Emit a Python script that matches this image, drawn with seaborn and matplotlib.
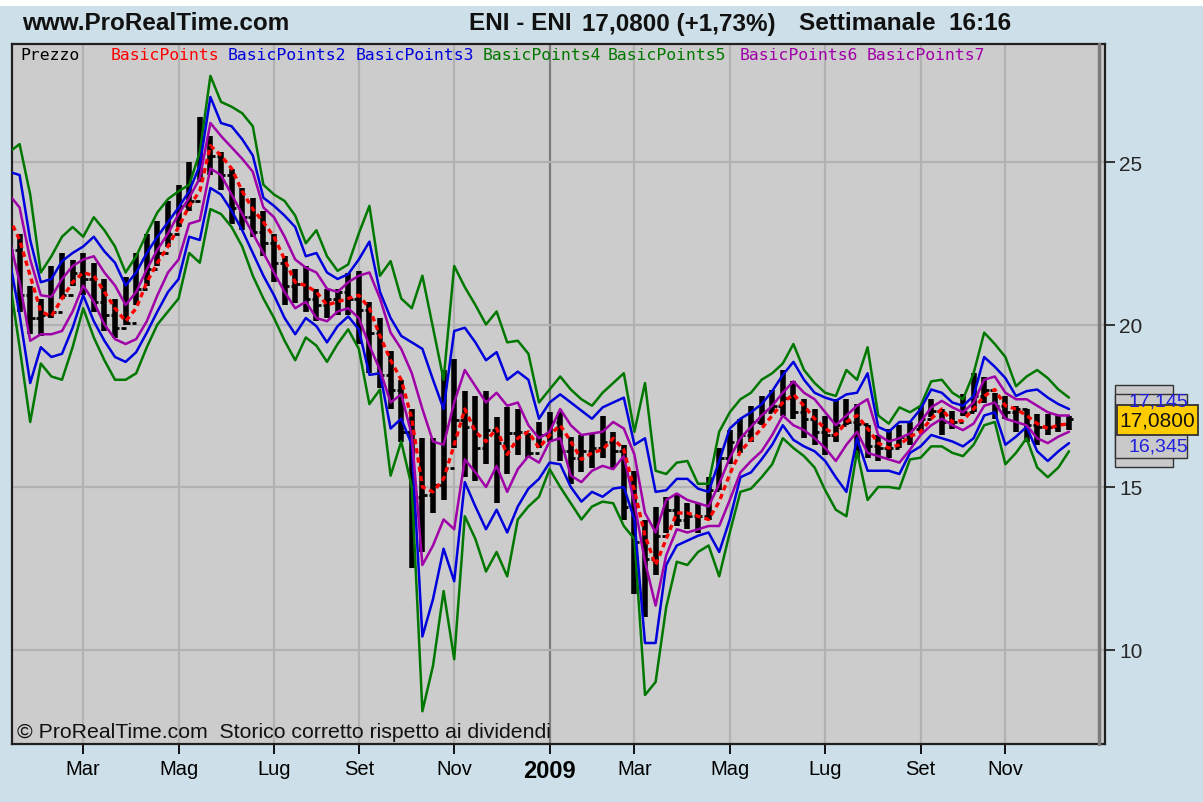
import numpy as np
import pandas as pd
import matplotlib
matplotlib.use("Agg")
import matplotlib.pyplot as plt
import seaborn as sns
from matplotlib.patches import Rectangle

# ---------------- data (weekly ENI) ----------------
start_week = "2008-01-14"
n_weeks = 101

bar_open = [23.2, 22.3, 20.9, 20.2, 20.3, 20.4, 20.9, 21.6, 21.4, 20.7,
            20.3, 19.9, 20.05, 21.1, 21.7, 22.2, 22.8, 23.65, 23.8, 25.7,
            25.2, 24.6, 23.6, 23.3, 22.85, 22.5, 21.9, 21.2, 21.25, 20.8,
            20.6, 20.8, 21.0, 20.8, 20.45, 19.75, 18.45, 18.0, 16.7, 14.7,
            14.75, 15.05, 15.6, 17.05, 16.85, 16.2, 16.75, 16.35, 16.65, 16.7,
            16.05, 16.6, 17.0, 16.1, 15.9, 16.1, 16.2, 16.4, 16.1, 14.4,
            13.3, 12.8, 13.5, 14.3, 14.0, 14.1, 14.1, 14.9, 15.9, 16.4,
            16.6, 17.0, 17.3, 17.5, 17.75, 17.3, 17.1, 16.7, 16.6, 16.9,
            17.0, 16.95, 16.25, 16.2, 16.2, 16.55, 16.8, 17.1, 17.35, 17.0,
            17.0, 17.3, 17.8, 18.0, 17.5, 17.3, 17.4, 16.9, 16.85, 16.85,
            16.95]
bar_high = [23.9, 22.8, 21.2, 20.8, 21.8, 22.2, 22.0, 22.2, 21.9, 21.4,
            20.8, 21.45, 22.2, 22.8, 23.2, 23.8, 24.3, 25.0, 26.4, 25.8,
            25.3, 24.8, 24.2, 23.9, 23.5, 22.8, 22.1, 21.7, 21.8, 21.1,
            21.1, 21.1, 21.6, 21.65, 20.7, 20.2, 19.2, 18.3, 17.4, 16.5,
            16.5, 18.6, 18.95, 17.95, 17.8, 17.95, 17.15, 17.45, 17.4, 16.65,
            17.0, 17.3, 17.3, 16.55, 16.6, 16.65, 17.2, 16.7, 16.3, 15.5,
            14.0, 14.4, 14.7, 14.8, 14.5, 14.5, 15.3, 16.2, 16.75, 17.1,
            17.5, 17.8, 18.0, 18.6, 18.25, 17.7, 17.4, 17.2, 17.7, 17.7,
            17.55, 16.9, 16.6, 16.8, 16.9, 17.0, 17.5, 17.7, 17.4, 17.35,
            17.85, 18.5, 18.4, 17.9, 17.8, 17.5, 17.4, 17.25, 17.25, 17.2,
            17.2]
bar_low = [21.6, 20.4, 19.7, 19.65, 20.2, 20.8, 21.2, 20.9, 20.4, 19.8,
           19.6, 20.0, 20.6, 21.2, 21.8, 22.4, 23.0, 23.5, 24.4, 24.6,
           24.15, 23.1, 22.9, 22.7, 22.1, 21.3, 20.6, 20.65, 20.4, 20.1,
           20.2, 20.3, 20.3, 19.4, 18.5, 18.05, 17.4, 16.4, 12.5, 13.0,
           14.2, 14.6, 16.2, 15.3, 15.2, 15.7, 14.5, 15.4, 16.0, 15.9,
           16.2, 16.4, 15.8, 15.1, 15.45, 15.6, 15.9, 15.6, 14.0, 11.7,
           11.0, 12.3, 13.6, 13.8, 13.7, 13.6, 14.0, 14.9, 15.7, 16.05,
           16.4, 16.9, 17.3, 17.2, 17.1, 16.5, 16.3, 16.0, 16.4, 16.9,
           15.9, 15.9, 15.8, 15.9, 16.2, 16.3, 16.7, 17.15, 16.6, 16.8,
           17.2, 17.3, 17.6, 17.1, 17.1, 16.7, 16.4, 16.3, 16.6, 16.7,
           16.75]
bar_close = [22.3, 20.9, 20.2, 20.3, 20.4, 20.9, 21.6, 21.4, 20.7, 20.3,
             19.9, 20.05, 21.1, 21.7, 22.2, 22.8, 23.65, 23.8, 25.7, 25.2,
             24.6, 23.6, 23.3, 22.85, 22.5, 21.9, 21.2, 21.25, 20.8, 20.6,
             20.8, 21.0, 20.8, 20.45, 19.75, 18.45, 18.0, 16.7, 14.7, 14.75,
             15.05, 15.6, 17.05, 16.85, 16.2, 16.75, 16.35, 16.65, 16.7, 16.05,
             16.6, 17.0, 16.1, 15.9, 16.1, 16.2, 16.4, 16.1, 14.4, 13.3,
             12.8, 13.5, 14.3, 14.0, 14.1, 14.1, 14.9, 15.9, 16.4, 16.6,
             17.0, 17.3, 17.5, 17.75, 17.3, 17.1, 16.7, 16.6, 16.9, 17.0,
             16.95, 16.25, 16.2, 16.2, 16.55, 16.8, 17.1, 17.35, 17.0, 17.0,
             17.3, 17.8, 18.0, 17.5, 17.3, 17.4, 16.9, 16.85, 16.85, 16.95,
             17.08]

# BasicPoints (pivot, red dashed)
basic_points = [23.3, 22.6, 21.5, 20.4, 20.25, 20.8, 21.3, 21.6, 21.5, 21.0,
                20.5, 20.1, 20.5, 21.3, 21.9, 22.4, 23.0, 23.65, 24.1, 25.5,
                25.2, 24.8, 24.1, 23.55, 23.15, 22.7, 22.0, 21.3, 21.2, 21.0,
                20.6, 20.7, 20.8, 20.9, 20.5, 19.65, 18.9, 18.3, 17.1, 15.0,
                14.85, 15.25, 16.3, 17.4, 16.7, 16.4, 16.8, 16.0, 16.5, 16.7,
                16.2, 16.6, 16.9, 16.4, 15.85, 16.05, 16.15, 16.5, 16.15, 14.9,
                13.5, 12.6, 13.4, 14.2, 14.2, 14.1, 14.0, 14.55, 15.4, 16.1,
                16.45, 16.8, 17.2, 17.6, 17.85, 17.5, 17.1, 16.8, 16.6, 17.0,
                17.2, 16.8, 16.35, 16.2, 16.3, 16.55, 16.7, 17.1, 17.4, 17.0,
                17.05, 17.4, 17.8, 18.0, 17.5, 17.4, 17.2, 16.95, 16.8, 16.9,
                16.95]
# BasicPoints2 / 3 (blue upper / lower)
basic_points2 = [24.7, 24.6, 22.6, 21.3, 21.4, 21.95, 22.2, 22.4, 22.7, 22.25,
                 21.9, 21.2, 21.6, 22.2, 22.7, 23.15, 23.6, 24.1, 24.9, 27.0,
                 26.2, 26.1, 25.7, 25.2, 23.9, 23.65, 23.35, 23.0, 22.1, 22.2,
                 21.6, 21.4, 21.55, 22.0, 22.55, 21.0, 20.2, 19.65, 19.45, 19.25,
                 18.3, 17.4, 19.8, 19.9, 19.45, 18.9, 19.15, 18.3, 18.55, 18.3,
                 17.1, 17.6, 17.85, 17.6, 17.35, 17.1, 17.45, 17.6, 17.75, 16.3,
                 16.5, 14.85, 14.9, 15.25, 15.25, 14.95, 14.85, 15.8, 16.8, 17.1,
                 17.3, 17.55, 17.95, 18.45, 18.85, 18.3, 17.9, 17.75, 17.65, 17.85,
                 17.9, 18.5, 16.85, 16.7, 17.0, 17.0, 17.4, 18.0, 17.9, 17.6,
                 17.5, 17.8, 19.0, 18.7, 18.35, 17.8, 17.95, 18.0, 17.75, 17.55,
                 17.4]
basic_points3 = [22.1, 20.3, 18.2, 19.3, 19.0, 19.1, 19.9, 20.9, 20.1, 19.5,
                 19.0, 18.85, 19.15, 19.75, 20.4, 21.0, 21.4, 22.7, 22.6, 24.2,
                 24.0, 23.5, 22.9, 22.2, 21.5, 20.9, 20.2, 19.7, 20.2, 19.95,
                 19.45, 19.95, 20.25, 19.85, 18.45, 18.5, 16.8, 17.1, 16.3, 10.4,
                 11.55, 13.1, 12.1, 15.15, 14.4, 13.7, 14.3, 13.6, 14.4, 14.95,
                 15.25, 15.75, 15.7, 15.0, 14.55, 14.85, 14.7, 14.95, 15.0, 14.0,
                 10.2, 10.2, 12.6, 13.2, 13.35, 13.5, 13.6, 13.0, 14.0, 15.3,
                 15.45, 15.85, 16.3, 16.9, 16.45, 16.25, 16.1, 15.8, 15.3, 14.85,
                 16.5, 15.5, 15.5, 15.5, 15.4, 16.05, 16.25, 16.6, 16.5, 16.4,
                 16.25, 16.5, 17.2, 17.3, 16.3, 16.55, 16.85, 16.1, 15.8, 16.1,
                 16.35]
# BasicPoints4 / 5 (green upper / lower)
basic_points4 = [25.3, 25.55, 24.0, 21.6, 22.1, 22.7, 23.0, 22.7, 23.3, 22.9,
                 22.4, 21.6, 22.1, 22.8, 23.45, 23.86, 24.1, 24.3, 25.3, 27.65,
                 26.85, 26.7, 26.5, 26.1, 24.3, 24.0, 23.8, 23.35, 22.5, 22.9,
                 22.1, 21.65, 21.85, 22.8, 23.65, 21.5, 21.95, 20.8, 20.5, 21.5,
                 19.9, 18.3, 21.8, 21.15, 20.6, 20.0, 20.4, 19.45, 19.5, 19.1,
                 17.6, 18.0, 18.4, 18.0, 17.7, 17.5, 17.9, 18.2, 18.5, 16.7,
                 18.2, 15.5, 15.4, 15.75, 15.8, 15.1, 15.1, 16.7, 17.3, 17.7,
                 17.9, 18.3, 18.5, 18.8, 19.4, 18.6, 18.2, 17.9, 17.8, 18.6,
                 18.3, 19.3, 17.2, 16.95, 17.45, 17.3, 17.5, 18.25, 18.3, 17.9,
                 17.7, 18.5, 19.75, 19.4, 19.0, 18.1, 18.4, 18.6, 18.35, 18.0,
                 17.75]
basic_points5 = [21.5, 19.3, 17.0, 18.8, 18.4, 18.3, 19.3, 20.5, 19.6, 18.9,
                 18.3, 18.3, 18.5, 19.3, 20.0, 20.4, 20.8, 22.2, 21.9, 23.55,
                 23.4, 23.0, 22.4, 21.5, 20.8, 20.2, 19.5, 18.9, 19.6, 19.35,
                 18.85, 19.4, 19.85, 19.25, 17.55, 18.0, 15.35, 16.4, 15.0, 8.1,
                 9.5, 11.8, 9.7, 14.1, 13.4, 12.4, 13.0, 12.25, 14.0, 14.4,
                 14.7, 15.55, 15.0, 14.5, 14.0, 14.4, 14.55, 14.5, 13.8, 13.4,
                 8.6, 9.0, 11.3, 12.7, 12.6, 13.0, 13.2, 12.25, 13.6, 14.85,
                 14.95, 15.3, 15.7, 16.5, 16.2, 15.95, 15.6, 14.9, 14.3, 14.1,
                 16.1, 14.6, 15.0, 15.0, 14.95, 15.85, 15.9, 16.25, 16.25, 16.05,
                 15.95, 16.3, 16.9, 17.0, 15.7, 16.05, 16.5, 15.6, 15.3, 15.6,
                 16.1]
# BasicPoints6 / 7 (purple upper / lower)
basic_points6 = [24.0, 23.6, 22.0, 20.9, 20.85, 21.4, 21.8, 22.0, 22.1, 21.6,
                 21.2, 20.6, 21.0, 21.7, 22.3, 22.8, 23.4, 23.9, 24.5, 26.2,
                 25.8, 25.45, 25.1, 24.7, 23.6, 23.3, 22.7, 22.0, 21.75, 21.6,
                 21.1, 21.0, 21.3, 21.5, 21.6, 20.8, 19.75, 19.25, 18.5, 17.4,
                 16.4, 16.3, 17.6, 18.6, 18.1, 17.6, 17.9, 17.5, 17.6, 16.9,
                 16.5, 16.7, 17.4, 16.9, 16.6, 16.65, 16.7, 17.0, 16.8, 16.0,
                 14.2, 13.6, 14.6, 14.8, 14.6, 14.5, 14.4, 15.1, 15.9, 16.5,
                 16.85, 17.2, 17.5, 17.9, 18.25, 17.9, 17.7, 17.3, 16.9, 17.2,
                 17.5, 17.7, 16.6, 16.4, 16.5, 16.65, 17.0, 17.45, 17.65, 17.45,
                 17.3, 17.6, 18.3, 18.4, 17.9, 17.7, 17.7, 17.5, 17.3, 17.2,
                 17.2]
basic_points7 = [22.7, 21.3, 19.5, 19.7, 19.7, 19.8, 20.4, 21.2, 20.7, 20.0,
                 19.55, 19.4, 19.55, 20.1, 20.9, 21.6, 22.0, 23.1, 23.2, 24.8,
                 24.6, 24.0, 23.4, 22.8, 22.2, 21.6, 21.0, 20.5, 20.7, 20.2,
                 20.1, 20.4, 20.5, 20.2, 19.35, 18.6, 17.6, 17.85, 16.6, 12.6,
                 13.2, 14.0, 13.7, 15.85, 15.45, 15.0, 15.65, 14.85, 15.55, 15.95,
                 15.75, 16.4, 16.5, 15.35, 15.15, 15.5, 15.65, 15.55, 15.95, 14.5,
                 12.7, 11.35, 12.9, 13.7, 13.6, 13.7, 13.8, 13.8, 14.6, 15.45,
                 15.8, 16.1, 16.6, 17.2, 16.9, 16.75, 16.5, 16.2, 15.8, 16.3,
                 16.7, 16.05, 15.95, 15.85, 15.75, 16.15, 16.6, 16.9, 17.1, 16.9,
                 16.75, 16.95, 17.5, 17.6, 17.1, 17.0, 16.9, 16.5, 16.35, 16.55,
                 16.7]

month_labels = {3: "Mar", 5: "Mag", 7: "Lug", 9: "Set", 11: "Nov"}
y_ticks = [10, 15, 20, 25]
legend_items = [("Prezzo", "#000000", 20), ("BasicPoints", "#ff0000", 111),
                ("BasicPoints2", "#0000dd", 228), ("BasicPoints3", "#0000dd", 356),
                ("BasicPoints4", "#007800", 483), ("BasicPoints5", "#007800", 608),
                ("BasicPoints6", "#a000a8", 740), ("BasicPoints7", "#a000a8", 867)]

# ---------------- figure ----------------
W, H = 1203, 803
sns.set_style("white")
plt.rcParams["font.family"] = ["Liberation Sans", "DejaVu Sans"]

BG = "#cddfe8"
fig = plt.figure(figsize=(W / 100, H / 100), dpi=100, facecolor=BG)


def fx(px):
    return px / W


def fy(py):
    return 1 - py / H


# white strip at the very top
fig.patches.append(Rectangle((0, fy(7)), 1, 7 / H, transform=fig.transFigure,
                             facecolor="white", edgecolor="none", zorder=0))

AX_L, AX_R, AX_T, AX_B = 12, 1105, 45, 745
ax = fig.add_axes([fx(AX_L), fy(AX_B), (AX_R - AX_L) / W, (AX_B - AX_T) / H])
ax.set_facecolor("#cccccc")

weeks = pd.date_range(start_week, periods=n_weeks, freq="7D")
xi = np.arange(n_weeks)
PX0, PXW = 9.0, 10.6          # pixel of week 0 and pixels per week
PY25, PYU = 163.0, 32.5        # pixel of value 25 and pixels per unit
ax.set_xlim((AX_L - PX0) / PXW, (AX_R - PX0) / PXW)
ax.set_ylim(25 - (AX_B - PY25) / PYU, 25 + (PY25 - AX_T) / PYU)

# month ticks (first week of odd months)
tick_pos, tick_lab, tick_year = [], [], []
for i in range(1, n_weeks):
    m = weeks[i].month
    if m != weeks[i - 1].month and m in (1, 3, 5, 7, 9, 11):
        tick_pos.append(i)
        if m == 1:
            tick_lab.append(str(weeks[i].year))
            tick_year.append(True)
        else:
            tick_lab.append(month_labels[m])
            tick_year.append(False)

# grid
for p, yr in zip(tick_pos, tick_year):
    ax.axvline(p, color="#7c7c7c" if yr else "#b2b2b2", lw=1.6, zorder=1)
for v in y_ticks:
    ax.axhline(v, color="#b2b2b2", lw=1.6, zorder=1)

# price bars
ax.vlines(xi, bar_low, bar_high, color="black", lw=4.0, zorder=3,
          capstyle="butt")
ax.hlines(bar_open, xi - 0.42, xi, color="black", lw=2.0, zorder=3)
ax.hlines(bar_close, xi, xi + 0.42, color="black", lw=2.0, zorder=3)

# indicator lines
lines = [(basic_points4, "#007800"), (basic_points5, "#007800"),
         (basic_points2, "#0000dd"), (basic_points3, "#0000dd"),
         (basic_points6, "#a000a8"), (basic_points7, "#a000a8")]
for arr, col in lines:
    sns.lineplot(x=xi, y=arr, ax=ax, color=col, lw=1.8, zorder=4,
                 legend=False, errorbar=None)
sns.lineplot(x=xi, y=basic_points, ax=ax, color="#ff0000", lw=2.4, zorder=5,
             legend=False, errorbar=None, linestyle=(0, (1.6, 1.2)))

# axes styling
for s in ax.spines.values():
    s.set_color("#202020")
    s.set_linewidth(1.6)
ax.plot([(1099 - PX0) / PXW] * 2, ax.get_ylim(), color="#7c7c7c", lw=2.5,
        zorder=6, clip_on=False)
ax.yaxis.tick_right()
ax.set_yticks(y_ticks)
ax.set_yticklabels([str(v) for v in y_ticks], fontsize=15)
ax.set_xticks(tick_pos)
ax.set_xticklabels(tick_lab, fontsize=14.5)
for lab, yr in zip(ax.get_xticklabels(), tick_year):
    if yr:
        lab.set_fontweight("bold")
        lab.set_fontsize(17)
ax.tick_params(axis="x", direction="out", length=7, width=1.3, pad=4,
               colors="#000000", bottom=True)
ax.tick_params(axis="y", direction="out", length=7, width=1.3, pad=3,
               right=True, left=False)
ax.set_xlabel("")
ax.set_ylabel("")

# header
fig.text(fx(22), fy(24), "www.ProRealTime.com", fontsize=17.5,
         fontweight="bold", va="center", ha="left", color="#111111")
fig.text(fx(469), fy(24), "ENI - ENI", fontsize=17.5, fontweight="bold",
         va="center", ha="left", color="#111111")
fig.text(fx(582), fy(24), "17,0800 (+1,73%)", fontsize=17.5,
         fontweight="bold", va="center", ha="left", color="#111111")
fig.text(fx(799), fy(24), "Settimanale  16:16", fontsize=17.5,
         fontweight="bold", va="center", ha="left", color="#111111")

# legend row inside the plot
for name, col, px in legend_items:
    fig.text(fx(px), fy(56), name, fontsize=11.8, color=col, va="center",
             ha="left", family="DejaVu Sans Mono", zorder=10)

# bottom note
fig.text(fx(17), fy(733), "\u00a9 ProRealTime.com  Storico corretto rispetto ai dividendi",
         fontsize=15.3, va="center", ha="left", color="#111111", zorder=10)

# value boxes on the right
def box(x0, y0, x1, y1, fc, lw=1.0):
    fig.patches.append(Rectangle((fx(x0), fy(y1)), (x1 - x0) / W, (y1 - y0) / H,
                                 transform=fig.transFigure, facecolor=fc,
                                 edgecolor="#333333", lw=lw, zorder=20))

box(1115, 386, 1173, 468, "#c9c9c9")
box(1115, 395, 1187, 459, "#c9c9c9")
fig.text(fx(1158), fy(402), "17,145", fontsize=14, color="#2020dd",
         ha="center", va="center", zorder=21)
fig.text(fx(1158), fy(447), "16,345", fontsize=14, color="#2020dd",
         ha="center", va="center", zorder=21)
box(1117, 406, 1198, 436, "#ffcc00", lw=1.3)
fig.text(fx(1157), fy(421), "17,0800", fontsize=15, color="#111111",
         ha="center", va="center", zorder=22)

fig.savefig("out.png", dpi=100, facecolor=BG)
